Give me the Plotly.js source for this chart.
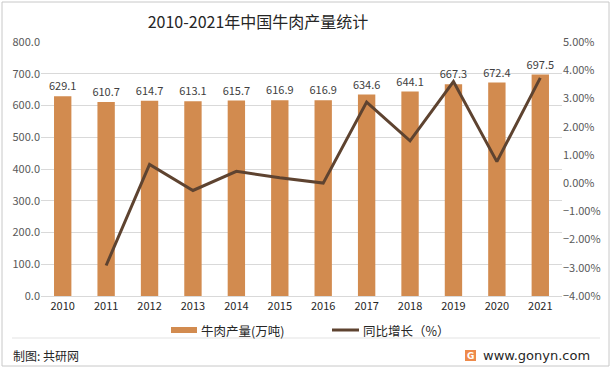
<!DOCTYPE html>
<html>
<head>
<meta charset="utf-8">
<script src="https://cdn.plot.ly/plotly-3.0.1.min.js"></script>
<style>html,body{margin:0;padding:0;background:#fff;}#chart{width:612px;height:370px;}</style>
</head>
<body>
<div id="chart"></div>
<script>
const years = ['2010','2011','2012','2013','2014','2015','2016','2017','2018','2019','2020','2021'];
const beefOutput = [629.1, 610.7, 614.7, 613.1, 615.7, 616.9, 616.9, 634.6, 644.1, 667.3, 672.4, 697.5];
const growthYears = ['2011','2012','2013','2014','2015','2016','2017','2018','2019','2020','2021'];
const growthPct = [-2.92, 0.66, -0.26, 0.42, 0.19, 0.00, 2.87, 1.50, 3.60, 0.76, 3.73];
const barName = '牛肉产量(万吨)';
const lineName = '同比增长（%）';
const titleText = '2010-2021年中国牛肉产量统计';

const FONT = '"Noto Sans CJK SC", "Noto Sans", sans-serif';
const L = 41, R = 562, T = 42, B = 296;
const px = p => (p - L) / (R - L);
const py = q => (B - q) / (B - T);

const barColor = '#D28B4F';
const lineColor = '#5E4330';

const traces = [
  {
    type: 'bar', x: years, y: beefOutput, name: barName,
    marker: {color: barColor}, width: 0.4,
    text: beefOutput.map(v => v.toFixed(1)), textposition: 'outside', constraintext: 'none',
    textfont: {family: FONT, size: 11, color: '#404040'},
    cliponaxis: false, hoverinfo: 'skip'
  },
  {
    type: 'scatter', mode: 'lines', x: growthYears, y: growthPct, name: lineName,
    yaxis: 'y2', line: {color: lineColor, width: 3}, hoverinfo: 'skip'
  }
];

const layout = {
  width: 612, height: 370,
  margin: {l: L, r: 612 - R, t: T, b: 370 - B, pad: 0},
  paper_bgcolor: '#fff', plot_bgcolor: '#fff',
  showlegend: false,
  font: {family: FONT, size: 11, color: '#595959'},
  title: {text: titleText, x: px(258), xanchor: 'center', y: 1 - 22/370, yanchor: 'middle',
          xref: 'paper', font: {family: FONT, size: 16, color: '#262626'}},
  xaxis: {type: 'category', tickfont: {family: FONT, size: 11, color: '#262626'},
          showgrid: false, showline: true, linecolor: '#d9d9d9', ticks: '', zeroline: false},
  yaxis: {range: [0, 800], dtick: 100, tickformat: '.1f', showgrid: true, gridcolor: '#d9d9d9',
          zeroline: false, ticks: '', tickfont: {family: FONT, size: 11, color: '#595959'}},
  yaxis2: {range: [-4, 5], dtick: 1, overlaying: 'y', side: 'right', showgrid: false,
           zeroline: false, ticks: '', tickformat: '.2f', ticksuffix: '%',
           tickfont: {family: FONT, size: 11, color: '#595959'}},
  bargap: 0.6,
  shapes: [
    {type: 'rect', xref: 'paper', yref: 'paper', x0: px(171), x1: px(197), y0: py(327), y1: py(333),
     fillcolor: barColor, line: {width: 0}},
    {type: 'line', xref: 'paper', yref: 'paper', x0: px(332), x1: px(359), y0: py(330), y1: py(330),
     line: {color: lineColor, width: 3}},
    {type: 'line', xref: 'paper', yref: 'paper', x0: px(12), x1: px(600), y0: py(338), y1: py(338),
     line: {color: '#e3e3e3', width: 1}},
    {type: 'rect', xref: 'paper', yref: 'paper', x0: px(2), x1: px(609), y0: py(366), y1: py(2),
     line: {color: '#c8c8c8', width: 1}, fillcolor: 'rgba(0,0,0,0)'},
    {type: 'rect', xref: 'paper', yref: 'paper', x0: px(465), x1: px(476), y0: py(361), y1: py(350),
     fillcolor: '#EE8A4A', line: {width: 0}}
  ],
  annotations: [
    {xref: 'paper', yref: 'paper', x: px(199), y: py(330), xanchor: 'left', yanchor: 'middle',
     text: barName, showarrow: false, font: {family: FONT, size: 12.5, color: '#262626'}},
    {xref: 'paper', yref: 'paper', x: px(361), y: py(330), xanchor: 'left', yanchor: 'middle',
     text: lineName, showarrow: false, font: {family: FONT, size: 12.5, color: '#262626'}},
    {xref: 'paper', yref: 'paper', x: px(11), y: py(355), xanchor: 'left', yanchor: 'middle',
     text: '制图: 共研网', showarrow: false, font: {family: FONT, size: 12, color: '#262626'}},
    {xref: 'paper', yref: 'paper', x: px(481), y: py(355), xanchor: 'left', yanchor: 'middle',
     text: 'www.gonyn.com', showarrow: false, font: {family: '"DejaVu Sans", sans-serif', size: 13, color: '#262626'}},
    {xref: 'paper', yref: 'paper', x: px(470.5), y: py(355.5), xanchor: 'center', yanchor: 'middle',
     text: '<b>G</b>', showarrow: false, font: {family: '"DejaVu Sans", sans-serif', size: 9, color: '#ffffff'}}
  ]
};

Plotly.newPlot('chart', traces, layout, {staticPlot: true, displayModeBar: false});
</script>
</body>
</html>
